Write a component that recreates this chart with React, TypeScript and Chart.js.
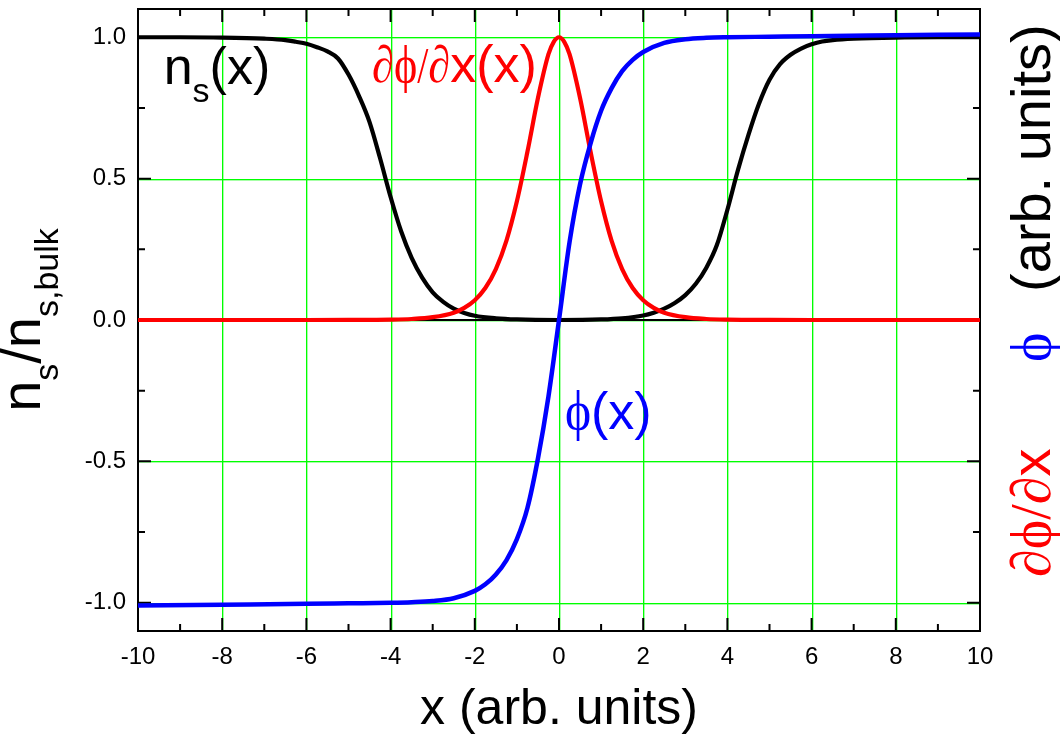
import { useEffect, useRef } from "react";
import { Chart, registerables } from "chart.js";

Chart.register(...registerables);

// Superfluid density profile n_s(x) across a double wall
const nsX = [-10, -9, -8, -7, -6.5, -6.25, -6, -5.75, -5.5, -5.25, -5, -4.75, -4.5, -4.25, -4, -3.75, -3.5, -3.25, -3, -2.75, -2.5, -2.25, -2, -1.5, -1, 0, 1, 1.5, 2, 2.25, 2.5, 2.75, 3, 3.25, 3.5, 3.75, 4, 4.25, 4.5, 4.75, 5, 5.25, 5.5, 5.75, 6, 6.25, 6.5, 7, 8, 9, 10];
const nsY = [1.0, 1.0, 0.999, 0.995, 0.99, 0.984, 0.977, 0.965, 0.95, 0.925, 0.868, 0.792, 0.7, 0.572, 0.435, 0.314, 0.22, 0.15, 0.098, 0.064, 0.04, 0.025, 0.015, 0.006, 0.002, 0.0, 0.002, 0.006, 0.016, 0.026, 0.04, 0.06, 0.088, 0.128, 0.185, 0.265, 0.39, 0.53, 0.655, 0.765, 0.85, 0.905, 0.938, 0.96, 0.975, 0.985, 0.99, 0.995, 0.999, 1.0, 1.0];

// Phase phi(x)
const phiX = [-10, -8, -6, -5, -4, -3.5, -3, -2.5, -2, -1.75, -1.5, -1.25, -1, -0.75, -0.5, -0.25, 0, 0.25, 0.5, 0.75, 1, 1.25, 1.5, 1.75, 2, 2.5, 3, 3.5, 4, 5, 6, 8, 10];
const phiY = [-1.01, -1.007, -1.004, -1.002, -1.0, -0.998, -0.994, -0.984, -0.958, -0.935, -0.9, -0.85, -0.775, -0.665, -0.49, -0.27, 0.0, 0.275, 0.48, 0.625, 0.74, 0.82, 0.88, 0.92, 0.948, 0.98, 0.993, 0.998, 1.0, 1.002, 1.004, 1.007, 1.01];

// Phase gradient dphi/dx(x)
const dphiX = [-10, -8, -6, -5, -4, -3.5, -3, -2.5, -2.25, -2, -1.75, -1.5, -1.25, -1, -0.75, -0.5, -0.25, -0.125, 0, 0.125, 0.25, 0.5, 0.75, 1, 1.25, 1.5, 1.75, 2, 2.25, 2.5, 3, 3.5, 4, 5, 6, 8, 10];
const dphiY = [0, 0, 0, 0.0002, 0.0013, 0.0036, 0.01, 0.026, 0.043, 0.07, 0.113, 0.18, 0.28, 0.42, 0.595, 0.785, 0.94, 0.984, 1.0, 0.984, 0.94, 0.785, 0.595, 0.42, 0.28, 0.18, 0.113, 0.07, 0.043, 0.026, 0.01, 0.0036, 0.0013, 0.0002, 0, 0, 0];

// Axis ticks
const xTicks = [-10, -8, -6, -4, -2, 0, 2, 4, 6, 8, 10];
const xMinorTicks = [-9, -7, -5, -3, -1, 1, 3, 5, 7, 9];
const yTicks = [-1, -0.5, 0, 0.5, 1];
const yMinorTicks = [-0.75, -0.25, 0.25, 0.75];

const SANS = '"Liberation Sans", Arial, Helvetica, sans-serif';
const SERIF = '"Liberation Serif", "DejaVu Serif", "Times New Roman", serif';
const GRID = "#00ff00";
const GRID_EDGE = "rgba(0,255,0,0.35)";
const RED = "#ff0000";
const BLUE = "#0000ff";

type Run = { text: string; font: string; color: string; dy?: number; sx?: number };

function runsWidth(ctx: CanvasRenderingContext2D, runs: Run[]) {
  let w = 0;
  for (const r of runs) {
    ctx.font = r.font;
    w += ctx.measureText(r.text).width * (r.sx || 1);
  }
  return w;
}

function drawRuns(ctx: CanvasRenderingContext2D, runs: Run[], x: number, y: number) {
  let cx = x;
  for (const r of runs) {
    const sx = r.sx || 1;
    ctx.font = r.font;
    ctx.fillStyle = r.color;
    ctx.save();
    ctx.translate(cx, y + (r.dy || 0));
    ctx.scale(sx, 1);
    ctx.fillText(r.text, 0, 0);
    ctx.restore();
    cx += ctx.measureText(r.text).width * sx;
  }
  return cx;
}

const sans = (px: number) => `${px}px ${SANS}`;
const serif = (px: number) => `${px}px ${SERIF}`;

// Grid, frame, inward ticks and the zero line, drawn beneath the curves
const framePlugin = {
  id: "frame",
  beforeDatasetsDraw(chart: any) {
    const { ctx, chartArea: a, scales } = chart;
    const xs = scales.x;
    const ys = scales.y;
    ctx.save();

    // green grid
    for (const v of xTicks) {
      if (v === xs.min || v === xs.max) continue;
      const px = Math.round(xs.getPixelForValue(v));
      ctx.fillStyle = GRID;
      ctx.fillRect(px, a.top, 1, a.bottom - a.top);
      ctx.fillStyle = GRID_EDGE;
      ctx.fillRect(px + 1, a.top, 1, a.bottom - a.top);
    }
    for (const v of yTicks) {
      const py = Math.round(ys.getPixelForValue(v));
      ctx.fillStyle = GRID;
      ctx.fillRect(a.left, py, a.right - a.left, 1);
      ctx.fillStyle = GRID_EDGE;
      ctx.fillRect(a.left, py + 1, a.right - a.left, 1);
    }

    ctx.strokeStyle = "#000";

    // zero line
    ctx.lineWidth = 2;
    const y0 = ys.getPixelForValue(0);
    ctx.beginPath();
    ctx.moveTo(a.left, y0);
    ctx.lineTo(a.right, y0);
    ctx.stroke();

    const tick = (vals: number[], len: number) => {
      for (const v of vals) {
        const px = xs.getPixelForValue(v);
        ctx.beginPath();
        ctx.moveTo(px, a.bottom);
        ctx.lineTo(px, a.bottom - len);
        ctx.moveTo(px, a.top);
        ctx.lineTo(px, a.top + len);
        ctx.stroke();
      }
    };
    const ytick = (vals: number[], len: number) => {
      for (const v of vals) {
        const py = ys.getPixelForValue(v);
        ctx.beginPath();
        ctx.moveTo(a.left, py);
        ctx.lineTo(a.left + len, py);
        ctx.moveTo(a.right, py);
        ctx.lineTo(a.right - len, py);
        ctx.stroke();
      }
    };
    tick(xTicks, 13);
    tick(xMinorTicks, 7);
    ytick(yTicks, 13);
    ytick(yMinorTicks, 7);

    ctx.strokeRect(a.left, a.top, a.right - a.left, a.bottom - a.top);
    ctx.restore();
  },
};

// Curve labels and axis titles
const labelsPlugin = {
  id: "labels",
  afterDraw(chart: any) {
    const { ctx, chartArea: a, scales } = chart;
    const xs = scales.x;
    const ys = scales.y;
    ctx.save();
    ctx.textAlign = "left";
    ctx.textBaseline = "alphabetic";

    // n_s(x)
    drawRuns(
      ctx,
      [
        { text: "n", font: sans(52), color: "#000" },
        { text: "s", font: sans(34), color: "#000", dy: 18 },
        { text: "(x)", font: sans(52), color: "#000" },
      ],
      xs.getPixelForValue(-9.39),
      ys.getPixelForValue(0.834)
    );

    // dphi/dx(x)
    drawRuns(
      ctx,
      [
        { text: "\u2202\u03D5", font: serif(52), color: RED, sx: 0.85 },
        { text: "/", font: serif(50), color: RED, sx: 0.8 },
        { text: "\u2202", font: serif(52), color: RED, sx: 0.85 },
        { text: "x(x)", font: sans(52), color: RED },
      ],
      xs.getPixelForValue(-4.44),
      ys.getPixelForValue(0.841)
    );

    // phi(x)
    drawRuns(
      ctx,
      [
        { text: "\u03D5", font: serif(54), color: BLUE, sx: 0.92 },
        { text: "(x)", font: sans(52), color: BLUE },
      ],
      xs.getPixelForValue(0.14),
      ys.getPixelForValue(-0.386)
    );

    // x axis title
    ctx.textAlign = "center";
    ctx.fillStyle = "#000";
    ctx.font = sans(50);
    ctx.fillText("x (arb. units)", (a.left + a.right) / 2, 724);
    ctx.textAlign = "left";

    // left axis title
    const leftRuns: Run[] = [
      { text: "n", font: sans(56), color: "#000" },
      { text: "s", font: sans(34), color: "#000", dy: 18 },
      { text: "/n", font: sans(56), color: "#000" },
      { text: "s,bulk", font: sans(34), color: "#000", dy: 18 },
    ];
    const lw = runsWidth(ctx, leftRuns);
    ctx.save();
    ctx.translate(40, 320);
    ctx.rotate(-Math.PI / 2);
    drawRuns(ctx, leftRuns, -lw / 2, 0);
    ctx.restore();

    // right axis title
    ctx.save();
    ctx.translate(1050, 577);
    ctx.rotate(-Math.PI / 2);
    drawRuns(
      ctx,
      [
        { text: "\u2202\u03D5", font: serif(56), color: RED },
        { text: "/", font: serif(56), color: RED },
        { text: "\u2202", font: serif(56), color: RED },
        { text: "x", font: sans(56), color: RED },
      ],
      0,
      0
    );
    drawRuns(ctx, [{ text: "\u03D5", font: serif(56), color: BLUE }], 577 - 362, 0);
    drawRuns(ctx, [{ text: "(arb. units)", font: sans(56), color: "#000" }], 577 - 292, 0);
    ctx.restore();

    ctx.restore();
  },
};

export default function App() {
  const ref = useRef<HTMLCanvasElement | null>(null);

  useEffect(() => {
    const canvas = ref.current;
    if (!canvas) return;
    const pts = (xv: number[], yv: number[]) => xv.map((x, i) => ({ x, y: yv[i] }));
    const line = (label: string, data: any[], color: string, width: number) => ({
      label,
      data,
      borderColor: color,
      backgroundColor: color,
      borderWidth: width,
      pointRadius: 0,
      fill: false,
      cubicInterpolationMode: "monotone" as const,
    });

    const chart = new Chart(canvas, {
      type: "line",
      data: {
        datasets: [
          line("\u03D5(x)", pts(phiX, phiY), BLUE, 4.5),
          line("\u2202\u03D5/\u2202x(x)", pts(dphiX, dphiY), RED, 4.2),
          line("n_s(x)", pts(nsX, nsY), "#000000", 4.2),
        ],
      },
      options: {
        animation: false,
        responsive: false,
        layout: { padding: { top: 9, right: 80, left: 0, bottom: 0 } },
        plugins: { legend: { display: false }, tooltip: { enabled: false } },
        scales: {
          x: {
            type: "linear",
            min: -10,
            max: 10,
            afterBuildTicks: (s: any) => {
              s.ticks = xTicks.map((v) => ({ value: v }));
            },
            afterFit: (s: any) => {
              s.height = 104;
              s.paddingLeft = 0;
              s.paddingRight = 0;
            },
            border: { display: false },
            grid: { display: false, drawTicks: false },
            ticks: {
              autoSkip: false,
              maxRotation: 0,
              padding: 12,
              color: "#000",
              font: { family: SANS, size: 24 },
              callback: (v: any) => String(v),
            },
          },
          y: {
            type: "linear",
            min: -1.1,
            max: 1.1,
            afterBuildTicks: (s: any) => {
              s.ticks = yTicks.map((v) => ({ value: v }));
            },
            afterFit: (s: any) => {
              s.width = 138;
              s.paddingTop = 0;
              s.paddingBottom = 0;
            },
            border: { display: false },
            grid: { display: false, drawTicks: false },
            ticks: {
              autoSkip: false,
              padding: 12,
              color: "#000",
              font: { family: SANS, size: 24 },
              callback: (v: any) => Number(v).toFixed(1),
            },
          },
        },
      },
      plugins: [framePlugin, labelsPlugin],
    });
    return () => chart.destroy();
  }, []);

  return (
    <div style={{ position: "absolute", left: 0, top: 0, width: 1060, height: 735, background: "#fff" }}>
      <canvas ref={ref} width={1060} height={735} style={{ display: "block" }} />
    </div>
  );
}
